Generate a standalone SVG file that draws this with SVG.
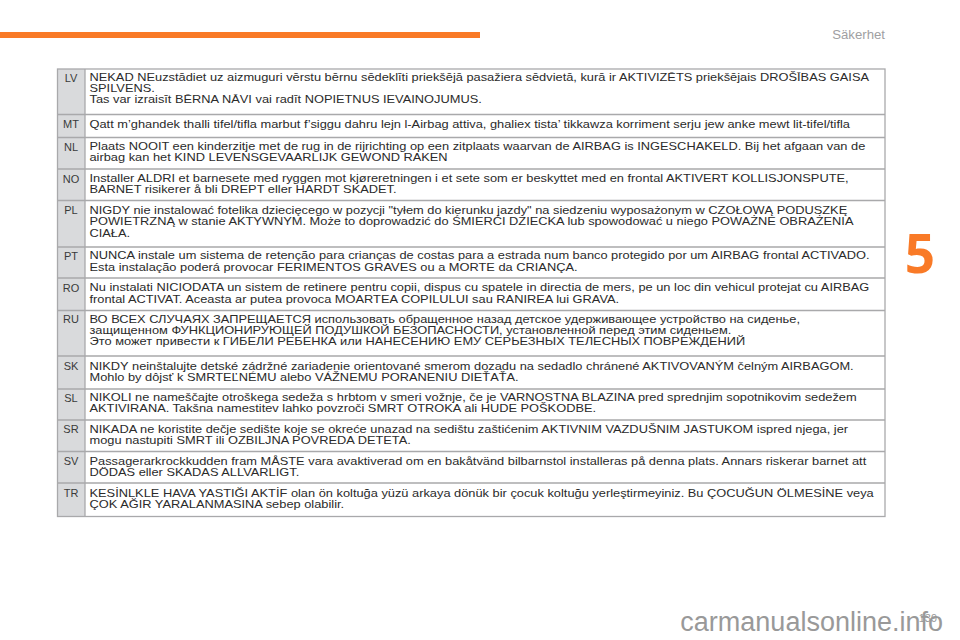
<svg xmlns="http://www.w3.org/2000/svg" width="960" height="640" viewBox="0 0 960 640">
<style>
.t{font-family:"Liberation Sans",Arial,sans-serif;font-size:11.200px;fill:#2b2b2b;transform-origin:89.500px 0;transform:scaleX(1.146)}
.c{font-family:"Liberation Sans",Arial,sans-serif;font-size:11px;text-anchor:middle;fill:#3a3a3a}
.l{stroke:#a9a9ab;stroke-width:1.3;fill:none}
</style>
<rect width="960" height="640" fill="#fff"/>
<rect x="0" y="32" width="480" height="6" fill="#f97a27"/>
<text x="885" y="39" text-anchor="end" font-family="Liberation Sans, Arial, sans-serif" font-size="13.200" fill="#a0a0a2">Säkerhet</text>
<text x="920" y="273" text-anchor="middle" font-family="Open Sans, Liberation Sans, sans-serif" font-weight="700" font-size="53" fill="#f97a27">5</text>
<rect x="57.500" y="69" width="27.500" height="447.500" fill="#d9dadc"/>
<g id="connectors">
<rect class="l" x="57.500" y="69" width="827.500" height="447.500"/>
<path class="l" d="M85 69V516.500M57.500 114.500H885M57.500 137.500H885M57.500 169H885M57.500 200.500H885M57.500 247H885M57.500 278H885M57.500 310.500H885M57.500 356H885M57.500 389H885M57.500 420H885M57.500 451.500H885M57.500 483H885"/>
</g>
<g id="row-lv"><text class="c" x="71" y="81.500">LV</text>
<text class="t" x="89.500" y="81.500">NEKAD NEuzstādiet uz aizmuguri vērstu bērnu sēdeklīti priekšējā pasažiera sēdvietā, kurā ir AKTIVIZĒTS priekšējais DROŠĪBAS GAISA</text>
<text class="t" x="89.500" y="92.500">SPILVENS.</text>
<text class="t" x="89.500" y="103.500">Tas var izraisīt BĒRNA NĀVI vai radīt NOPIETNUS IEVAINOJUMUS.</text></g>
<g id="row-mt"><text class="c" x="71" y="128">MT</text>
<text class="t" x="89.500" y="128">Qatt m’ghandek thalli tifel/tifla marbut f’siggu dahru lejn l-Airbag attiva, ghaliex tista’ tikkawza korriment serju jew anke mewt lit-tifel/tifla</text></g>
<g id="row-nl"><text class="c" x="71" y="150.500">NL</text>
<text class="t" x="89.500" y="150.500">Plaats NOOIT een kinderzitje met de rug in de rijrichting op een zitplaats waarvan de AIRBAG is INGESCHAKELD. Bij het afgaan van de</text>
<text class="t" x="89.500" y="161.500">airbag kan het KIND LEVENSGEVAARLIJK GEWOND RAKEN</text></g>
<g id="row-no"><text class="c" x="71" y="182.500">NO</text>
<text class="t" x="89.500" y="182.500">Installer ALDRI et barnesete med ryggen mot kjøreretningen i et sete som er beskyttet med en frontal AKTIVERT KOLLISJONSPUTE,</text>
<text class="t" x="89.500" y="193.500">BARNET risikerer å bli DREPT eller HARDT SKADET.</text></g>
<g id="row-pl"><text class="c" x="71" y="214">PL</text>
<text class="t" x="89.500" y="214">NIGDY nie instalować fotelika dziecięcego w pozycji "tyłem do kierunku jazdy" na siedzeniu wyposażonym w CZOŁOWĄ PODUSZKĘ</text>
<text class="t" x="89.500" y="225.500">POWIETRZNĄ w stanie AKTYWNYM. Może to doprowadzić do ŚMIERĆI DZIECKA lub spowodować u niego POWAŻNE OBRAŻENIA</text>
<text class="t" x="89.500" y="237">CIAŁA.</text></g>
<g id="row-pt"><text class="c" x="71" y="259.500">PT</text>
<text class="t" x="89.500" y="259.500">NUNCA instale um sistema de retenção para crianças de costas para a estrada num banco protegido por um AIRBAG frontal ACTIVADO.</text>
<text class="t" x="89.500" y="271">Esta instalação poderá provocar FERIMENTOS GRAVES ou a MORTE da CRIANÇA.</text></g>
<g id="row-ro"><text class="c" x="71" y="291.500">RO</text>
<text class="t" x="89.500" y="291.500">Nu instalati NICIODATA un sistem de retinere pentru copii, dispus cu spatele in directia de mers, pe un loc din vehicul protejat cu AIRBAG</text>
<text class="t" x="89.500" y="303">frontal ACTIVAT. Aceasta ar putea provoca MOARTEA COPILULUI sau RANIREA lui GRAVA.</text></g>
<g id="row-ru"><text class="c" x="71" y="323">RU</text>
<text class="t" x="89.500" y="323">ВО ВСЕХ СЛУЧАЯХ ЗАПРЕЩАЕТСЯ использовать обращенное назад детское удерживающее устройство на сиденье,</text>
<text class="t" x="89.500" y="334">защищенном ФУНКЦИОНИРУЮЩЕЙ ПОДУШКОЙ БЕЗОПАСНОСТИ, установленной перед этим сиденьем.</text>
<text class="t" x="89.500" y="345">Это может привести к ГИБЕЛИ РЕБЕНКА или НАНЕСЕНИЮ ЕМУ СЕРЬЕЗНЫХ ТЕЛЕСНЫХ ПОВРЕЖДЕНИЙ</text></g>
<g id="row-sk"><text class="c" x="71" y="370">SK</text>
<text class="t" x="89.500" y="370">NIKDY neinštalujte detské zádržné zariadenie orientované smerom dozadu na sedadlo chránené AKTIVOVANÝM čelným AIRBAGOM.</text>
<text class="t" x="89.500" y="381">Mohlo by dôjsť k SMRTEĽNÉMU alebo VÁŽNEMU PORANENIU DIEŤAŤA.</text></g>
<g id="row-sl"><text class="c" x="71" y="401.500">SL</text>
<text class="t" x="89.500" y="401.500">NIKOLI ne nameščajte otroškega sedeža s hrbtom v smeri vožnje, če je VARNOSTNA BLAZINA pred sprednjim sopotnikovim sedežem</text>
<text class="t" x="89.500" y="412.500">AKTIVIRANA. Takšna namestitev lahko povzroči SMRT OTROKA ali HUDE POŠKODBE.</text></g>
<g id="row-sr"><text class="c" x="71" y="433">SR</text>
<text class="t" x="89.500" y="433">NIKADA ne koristite dečje sedište koje se okreće unazad na sedištu zaštićenim AKTIVNIM VAZDUŠNIM JASTUKOM ispred njega, jer</text>
<text class="t" x="89.500" y="444.500">mogu nastupiti SMRT ili OZBILJNA POVREDA DETETA.</text></g>
<g id="row-sv"><text class="c" x="71" y="465">SV</text>
<text class="t" x="89.500" y="465">Passagerarkrockkudden fram MÅSTE vara avaktiverad om en bakåtvänd bilbarnstol installeras på denna plats. Annars riskerar barnet att</text>
<text class="t" x="89.500" y="476">DÖDAS eller SKADAS ALLVARLIGT.</text></g>
<g id="row-tr"><text class="c" x="71" y="497">TR</text>
<text class="t" x="89.500" y="497">KESİNLKLE HAVA YASTIĞI AKTİF olan ön koltuğa yüzü arkaya dönük bir çocuk koltuğu yerleştirmeyiniz. Bu ÇOCUĞUN ÖLMESİNE veya</text>
<text class="t" x="89.500" y="508.500">ÇOK AĞIR YARALANMASINA sebep olabilir.</text></g>
<text x="937" y="622" text-anchor="end" font-family="Liberation Sans, Arial, sans-serif" font-size="11" fill="#999">139</text>
<text x="943" y="631" text-anchor="end" font-family="Liberation Sans, Arial, sans-serif" font-size="27" fill="#999">carmanualsonline.info</text>
</svg>
